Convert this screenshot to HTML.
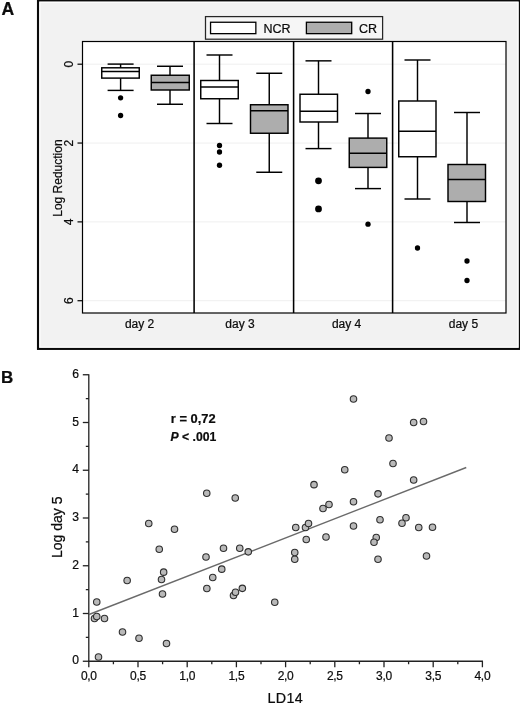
<!DOCTYPE html>
<html><head><meta charset="utf-8"><title>Figure</title>
<style>html,body{margin:0;padding:0;background:#fff}body{width:520px;height:704px;overflow:hidden}svg{display:block;will-change:transform}text{font-family:"Liberation Sans",sans-serif;fill:#0c0c0c;stroke:#0c0c0c;stroke-width:0.22px}</style>
</head><body>
<svg width="520" height="704" viewBox="0 0 520 704">
<rect x="0" y="0" width="520" height="704" fill="#fff"/>
<text x="1.6" y="15.1" font-size="17.6" font-weight="bold">A</text>
<rect x="38.05" y="0.5" width="481.7" height="348.35" fill="#f2f2f2" stroke="#0a0a0a" stroke-width="2.2"/>
<rect x="39.9" y="2.3" width="478.1" height="344.9" fill="none" stroke="#fff" stroke-width="1.3" opacity="0.85"/>
<rect x="205.5" y="16.6" width="177.1" height="22.6" fill="#f6f6f6" stroke="#262626" stroke-width="1.25"/>
<rect x="210.55" y="22.25" width="45.3" height="11.4" fill="#fff" stroke="#000" stroke-width="1.3"/>
<text x="263.5" y="33" font-size="12.5">NCR</text>
<rect x="306.4" y="22.25" width="45.3" height="11.4" fill="#adadad" stroke="#000" stroke-width="1.3"/>
<text x="359" y="33" font-size="12.5">CR</text>
<rect x="82.5" y="41.5" width="423.5" height="271.5" fill="#fff"/>
<line x1="82.5" x2="506" y1="64.2" y2="64.2" stroke="#efefef" stroke-width="1"/>
<line x1="77.5" x2="82.5" y1="64.2" y2="64.2" stroke="#000" stroke-width="1.2"/>
<text transform="translate(72.5,64.2) rotate(-90)" text-anchor="middle" font-size="12">0</text>
<line x1="82.5" x2="506" y1="143.04000000000002" y2="143.04000000000002" stroke="#efefef" stroke-width="1"/>
<line x1="77.5" x2="82.5" y1="143.04000000000002" y2="143.04000000000002" stroke="#000" stroke-width="1.2"/>
<text transform="translate(72.5,143.04000000000002) rotate(-90)" text-anchor="middle" font-size="12">2</text>
<line x1="82.5" x2="506" y1="221.88" y2="221.88" stroke="#efefef" stroke-width="1"/>
<line x1="77.5" x2="82.5" y1="221.88" y2="221.88" stroke="#000" stroke-width="1.2"/>
<text transform="translate(72.5,221.88) rotate(-90)" text-anchor="middle" font-size="12">4</text>
<line x1="82.5" x2="506" y1="300.72" y2="300.72" stroke="#efefef" stroke-width="1"/>
<line x1="77.5" x2="82.5" y1="300.72" y2="300.72" stroke="#000" stroke-width="1.2"/>
<text transform="translate(72.5,300.72) rotate(-90)" text-anchor="middle" font-size="12">6</text>
<text transform="translate(61.5,178.1) rotate(-90)" text-anchor="middle" font-size="12">Log Reduction</text>
<rect x="82.5" y="41.5" width="423.5" height="271.5" fill="none" stroke="#000" stroke-width="1.2"/>
<line x1="194.1" x2="194.1" y1="41.5" y2="313" stroke="#000" stroke-width="1.55"/>
<line x1="293.6" x2="293.6" y1="41.5" y2="313" stroke="#000" stroke-width="1.55"/>
<line x1="392.6" x2="392.6" y1="41.5" y2="313" stroke="#000" stroke-width="1.55"/>
<text x="139.6" y="327.8" text-anchor="middle" font-size="12">day 2</text>
<text x="240" y="327.8" text-anchor="middle" font-size="12">day 3</text>
<text x="346.6" y="327.8" text-anchor="middle" font-size="12">day 4</text>
<text x="463.4" y="327.8" text-anchor="middle" font-size="12">day 5</text>
<g stroke="#000" stroke-width="1.45">
<line x1="120.6" x2="120.6" y1="64.1" y2="67.8"/><line x1="120.6" x2="120.6" y1="78.1" y2="90.4"/>
<line x1="107.6" x2="133.6" y1="64.1" y2="64.1"/><line x1="107.6" x2="133.6" y1="90.4" y2="90.4"/>
<rect x="101.75" y="67.8" width="37.5" height="10.299999999999997" fill="#fff"/>
<line x1="101.75" x2="139.25" y1="71.4" y2="71.4"/>
</g>
<circle cx="120.6" cy="97.8" r="2.65" fill="#000"/>
<circle cx="120.6" cy="115.5" r="2.65" fill="#000"/>
<g stroke="#000" stroke-width="1.45">
<line x1="170" x2="170" y1="66.25" y2="75.25"/><line x1="170" x2="170" y1="90" y2="104.25"/>
<line x1="157" x2="183" y1="66.25" y2="66.25"/><line x1="157" x2="183" y1="104.25" y2="104.25"/>
<rect x="151.25" y="75.25" width="38.0" height="14.75" fill="#adadad"/>
<line x1="151.25" x2="189.25" y1="82.5" y2="82.5"/>
</g>
<g stroke="#000" stroke-width="1.45">
<line x1="219.5" x2="219.5" y1="55" y2="80.5"/><line x1="219.5" x2="219.5" y1="98.75" y2="123.5"/>
<line x1="206.5" x2="232.5" y1="55" y2="55"/><line x1="206.5" x2="232.5" y1="123.5" y2="123.5"/>
<rect x="200.75" y="80.5" width="37.5" height="18.25" fill="#fff"/>
<line x1="200.75" x2="238.25" y1="87" y2="87"/>
</g>
<circle cx="219.5" cy="145.5" r="2.65" fill="#000"/>
<circle cx="219.5" cy="152" r="2.65" fill="#000"/>
<circle cx="219.5" cy="165.25" r="2.65" fill="#000"/>
<g stroke="#000" stroke-width="1.45">
<line x1="269.25" x2="269.25" y1="73.25" y2="104.75"/><line x1="269.25" x2="269.25" y1="133.25" y2="172.25"/>
<line x1="256.25" x2="282.25" y1="73.25" y2="73.25"/><line x1="256.25" x2="282.25" y1="172.25" y2="172.25"/>
<rect x="250.5" y="104.75" width="37.5" height="28.5" fill="#adadad"/>
<line x1="250.5" x2="288" y1="110.75" y2="110.75"/>
</g>
<g stroke="#000" stroke-width="1.45">
<line x1="318.5" x2="318.5" y1="60.85" y2="94.25"/><line x1="318.5" x2="318.5" y1="122" y2="148.6"/>
<line x1="305.5" x2="331.5" y1="60.85" y2="60.85"/><line x1="305.5" x2="331.5" y1="148.6" y2="148.6"/>
<rect x="300" y="94.25" width="37.5" height="27.75" fill="#fff"/>
<line x1="300" x2="337.5" y1="111.25" y2="111.25"/>
</g>
<circle cx="318.5" cy="180.8" r="3.4" fill="#000"/>
<circle cx="318.5" cy="208.95" r="3.4" fill="#000"/>
<g stroke="#000" stroke-width="1.45">
<line x1="368" x2="368" y1="113.5" y2="138.1"/><line x1="368" x2="368" y1="167.4" y2="188.6"/>
<line x1="355" x2="381" y1="113.5" y2="113.5"/><line x1="355" x2="381" y1="188.6" y2="188.6"/>
<rect x="349.25" y="138.1" width="37.5" height="29.30000000000001" fill="#adadad"/>
<line x1="349.25" x2="386.75" y1="153.3" y2="153.3"/>
</g>
<circle cx="368" cy="91.5" r="2.65" fill="#000"/>
<circle cx="368" cy="224.2" r="2.65" fill="#000"/>
<g stroke="#000" stroke-width="1.45">
<line x1="417.5" x2="417.5" y1="60" y2="101"/><line x1="417.5" x2="417.5" y1="156.75" y2="199"/>
<line x1="404.5" x2="430.5" y1="60" y2="60"/><line x1="404.5" x2="430.5" y1="199" y2="199"/>
<rect x="398.75" y="101" width="37.25" height="55.75" fill="#fff"/>
<line x1="398.75" x2="436" y1="131.3" y2="131.3"/>
</g>
<circle cx="417.5" cy="248" r="2.65" fill="#000"/>
<g stroke="#000" stroke-width="1.45">
<line x1="467" x2="467" y1="112.5" y2="164.5"/><line x1="467" x2="467" y1="201.5" y2="222.5"/>
<line x1="454" x2="480" y1="112.5" y2="112.5"/><line x1="454" x2="480" y1="222.5" y2="222.5"/>
<rect x="448" y="164.5" width="37.5" height="37.0" fill="#adadad"/>
<line x1="448" x2="485.5" y1="179.4" y2="179.4"/>
</g>
<circle cx="467" cy="261" r="2.65" fill="#000"/>
<circle cx="467" cy="280.5" r="2.65" fill="#000"/>
<text x="1" y="382.6" font-size="17" font-weight="bold">B</text>
<g stroke="#222" stroke-width="1.3">
<line x1="88.8" x2="88.8" y1="374.15" y2="661.9"/>
<line x1="88.14999999999999" x2="483.00000000000006" y1="661.25" y2="661.25"/>
<line x1="82.8" x2="88.8" y1="661.25" y2="661.25"/>
<line x1="85.8" x2="88.8" y1="637.375" y2="637.375"/>
<line x1="82.8" x2="88.8" y1="613.5" y2="613.5"/>
<line x1="85.8" x2="88.8" y1="589.625" y2="589.625"/>
<line x1="82.8" x2="88.8" y1="565.75" y2="565.75"/>
<line x1="85.8" x2="88.8" y1="541.875" y2="541.875"/>
<line x1="82.8" x2="88.8" y1="518.0" y2="518.0"/>
<line x1="85.8" x2="88.8" y1="494.125" y2="494.125"/>
<line x1="82.8" x2="88.8" y1="470.25" y2="470.25"/>
<line x1="85.8" x2="88.8" y1="446.375" y2="446.375"/>
<line x1="82.8" x2="88.8" y1="422.5" y2="422.5"/>
<line x1="85.8" x2="88.8" y1="398.625" y2="398.625"/>
<line x1="82.8" x2="88.8" y1="374.75" y2="374.75"/>
<line x1="88.8" x2="88.8" y1="661.25" y2="667.25"/>
<line x1="113.4" x2="113.4" y1="661.25" y2="664.25"/>
<line x1="138.0" x2="138.0" y1="661.25" y2="667.25"/>
<line x1="162.60000000000002" x2="162.60000000000002" y1="661.25" y2="664.25"/>
<line x1="187.2" x2="187.2" y1="661.25" y2="667.25"/>
<line x1="211.8" x2="211.8" y1="661.25" y2="664.25"/>
<line x1="236.40000000000003" x2="236.40000000000003" y1="661.25" y2="667.25"/>
<line x1="261.0" x2="261.0" y1="661.25" y2="664.25"/>
<line x1="285.6" x2="285.6" y1="661.25" y2="667.25"/>
<line x1="310.2" x2="310.2" y1="661.25" y2="664.25"/>
<line x1="334.8" x2="334.8" y1="661.25" y2="667.25"/>
<line x1="359.40000000000003" x2="359.40000000000003" y1="661.25" y2="664.25"/>
<line x1="384.00000000000006" x2="384.00000000000006" y1="661.25" y2="667.25"/>
<line x1="408.6" x2="408.6" y1="661.25" y2="664.25"/>
<line x1="433.20000000000005" x2="433.20000000000005" y1="661.25" y2="667.25"/>
<line x1="457.8" x2="457.8" y1="661.25" y2="664.25"/>
<line x1="482.40000000000003" x2="482.40000000000003" y1="661.25" y2="667.25"/>
</g>
<text x="78.9" y="664.45" text-anchor="end" font-size="12.1">0</text>
<text x="78.9" y="616.7" text-anchor="end" font-size="12.1">1</text>
<text x="78.9" y="568.95" text-anchor="end" font-size="12.1">2</text>
<text x="78.9" y="521.2" text-anchor="end" font-size="12.1">3</text>
<text x="78.9" y="473.45" text-anchor="end" font-size="12.1">4</text>
<text x="78.9" y="425.7" text-anchor="end" font-size="12.1">5</text>
<text x="78.9" y="377.95" text-anchor="end" font-size="12.1">6</text>
<text x="88.8" y="680.1" text-anchor="middle" font-size="12" letter-spacing="-0.3">0,0</text>
<text x="138.0" y="680.1" text-anchor="middle" font-size="12" letter-spacing="-0.3">0,5</text>
<text x="187.2" y="680.1" text-anchor="middle" font-size="12" letter-spacing="-0.3">1,0</text>
<text x="236.40000000000003" y="680.1" text-anchor="middle" font-size="12" letter-spacing="-0.3">1,5</text>
<text x="285.6" y="680.1" text-anchor="middle" font-size="12" letter-spacing="-0.3">2,0</text>
<text x="334.8" y="680.1" text-anchor="middle" font-size="12" letter-spacing="-0.3">2,5</text>
<text x="384.00000000000006" y="680.1" text-anchor="middle" font-size="12" letter-spacing="-0.3">3,0</text>
<text x="433.20000000000005" y="680.1" text-anchor="middle" font-size="12" letter-spacing="-0.3">3,5</text>
<text x="482.40000000000003" y="680.1" text-anchor="middle" font-size="12" letter-spacing="-0.3">4,0</text>
<text transform="translate(62,527.2) rotate(-90)" text-anchor="middle" font-size="14">Log day 5</text>
<text x="267.6" y="703" font-size="14.3" letter-spacing="0.3">LD14</text>
<text x="170.8" y="422.6" font-size="12.9" font-weight="bold">r = 0,72</text>
<text x="170.5" y="441.3" font-size="12.2" font-weight="bold"><tspan font-style="italic">P</tspan> &lt; .001</text>
<line x1="89" y1="614.5" x2="466.25" y2="467.5" stroke="#6a6a6a" stroke-width="1.35"/>
<g fill="#b9b9b9" stroke="#2e2e2e" stroke-width="1.1">
<circle cx="98.5" cy="657.0" r="3.25"/>
<circle cx="94.5" cy="618.5" r="3.25"/>
<circle cx="96.75" cy="616.5" r="3.25"/>
<circle cx="104.5" cy="618.5" r="3.25"/>
<circle cx="96.75" cy="602.0" r="3.25"/>
<circle cx="122.5" cy="632.0" r="3.25"/>
<circle cx="139.0" cy="638.25" r="3.25"/>
<circle cx="166.5" cy="643.5" r="3.25"/>
<circle cx="127.15" cy="580.5" r="3.25"/>
<circle cx="162.5" cy="594.0" r="3.25"/>
<circle cx="161.5" cy="579.45" r="3.25"/>
<circle cx="163.65" cy="572.15" r="3.25"/>
<circle cx="206.85" cy="588.5" r="3.25"/>
<circle cx="212.75" cy="577.55" r="3.25"/>
<circle cx="221.75" cy="569.15" r="3.25"/>
<circle cx="233.5" cy="595.5" r="3.25"/>
<circle cx="235.5" cy="592.25" r="3.25"/>
<circle cx="242.35" cy="588.35" r="3.25"/>
<circle cx="274.75" cy="602.25" r="3.25"/>
<circle cx="159.25" cy="549.25" r="3.25"/>
<circle cx="148.75" cy="523.5" r="3.25"/>
<circle cx="174.5" cy="529.25" r="3.25"/>
<circle cx="206.75" cy="493.25" r="3.25"/>
<circle cx="235.25" cy="498.0" r="3.25"/>
<circle cx="206.0" cy="557.0" r="3.25"/>
<circle cx="223.5" cy="548.25" r="3.25"/>
<circle cx="239.75" cy="548.25" r="3.25"/>
<circle cx="248.25" cy="551.85" r="3.25"/>
<circle cx="294.75" cy="559.25" r="3.25"/>
<circle cx="294.75" cy="552.5" r="3.25"/>
<circle cx="306.25" cy="539.5" r="3.25"/>
<circle cx="326.0" cy="537.0" r="3.25"/>
<circle cx="295.75" cy="527.5" r="3.25"/>
<circle cx="305.5" cy="527.5" r="3.25"/>
<circle cx="308.5" cy="523.5" r="3.25"/>
<circle cx="323.0" cy="508.5" r="3.25"/>
<circle cx="329.0" cy="504.5" r="3.25"/>
<circle cx="314.0" cy="484.65" r="3.25"/>
<circle cx="344.75" cy="469.75" r="3.25"/>
<circle cx="353.5" cy="501.75" r="3.25"/>
<circle cx="353.5" cy="526.0" r="3.25"/>
<circle cx="393.0" cy="463.5" r="3.25"/>
<circle cx="413.65" cy="480.0" r="3.25"/>
<circle cx="378.0" cy="493.85" r="3.25"/>
<circle cx="380.0" cy="519.75" r="3.25"/>
<circle cx="406.0" cy="517.75" r="3.25"/>
<circle cx="402.0" cy="523.25" r="3.25"/>
<circle cx="418.75" cy="527.5" r="3.25"/>
<circle cx="432.5" cy="527.25" r="3.25"/>
<circle cx="376.25" cy="537.5" r="3.25"/>
<circle cx="374.0" cy="542.25" r="3.25"/>
<circle cx="378.0" cy="559.25" r="3.25"/>
<circle cx="426.5" cy="556.0" r="3.25"/>
<circle cx="353.5" cy="399.0" r="3.25"/>
<circle cx="413.65" cy="422.5" r="3.25"/>
<circle cx="423.5" cy="421.5" r="3.25"/>
<circle cx="389.0" cy="438.0" r="3.25"/>
</g>
</svg></body></html>
